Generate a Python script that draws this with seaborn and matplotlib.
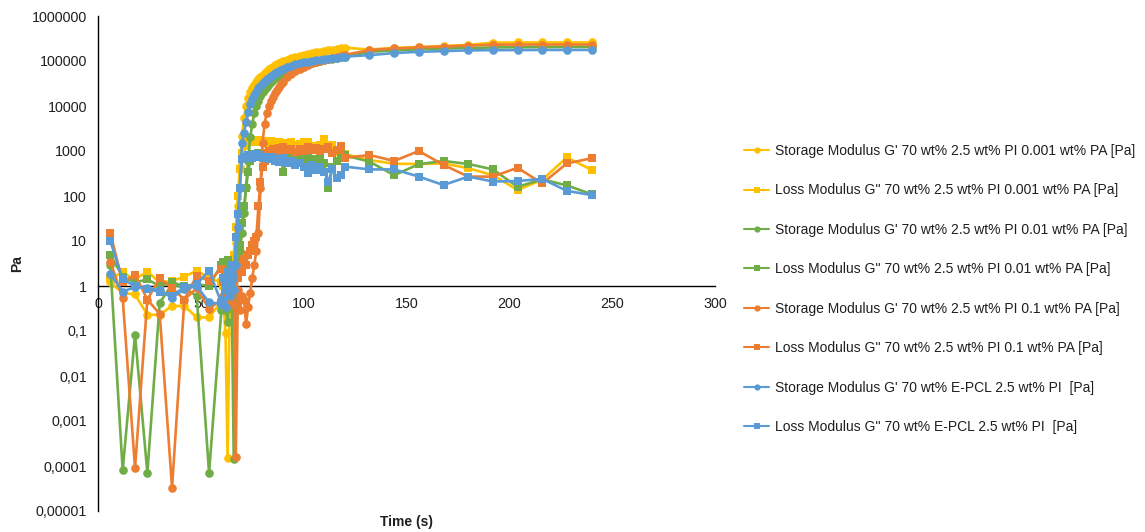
import matplotlib
matplotlib.use("Agg")
import matplotlib.pyplot as plt
from matplotlib.lines import Line2D
from matplotlib.ticker import FixedLocator, FixedFormatter, NullLocator
import seaborn as sns

# Sampling times (s): sparse start, dense gelation window, sparse tail
TIME = [6, 12, 18, 24, 30, 36, 42, 48, 54, 60,
        61, 62, 63, 64, 65, 66, 67, 68, 69, 70,
        71, 72, 73, 74, 75, 76, 77, 78, 79, 80,
        81, 82, 83, 84, 85, 86, 87, 88, 89, 90,
        92, 94, 96, 98, 100, 102, 104, 106, 108, 110,
        112, 114, 116, 118, 120,
        132, 144, 156, 168, 180, 192, 204, 216, 228, 240]

# 70 wt% 2.5 wt% PI 0.001 wt% PA
G1_STORAGE = [1.2, 0.7, 0.65, 0.23, 0.23, 0.36, 0.36, 0.2, 0.2, 0.45,
              0.4, 0.089, 0.00015, 0.3, 0.9, 2.5, 9, 60, 450, 2200,
              5500, 10000, 15000, 20000, 25000, 30000, 35000, 40000, 45000, 50000,
              55000, 60000, 65000, 70000, 75000, 80000, 85000, 90000, 95000, 99000,
              107000, 115000, 122000, 129000, 136000, 143000, 150000, 156000, 162000, 168000,
              174000, 180000, 186000, 192000, 198000,
              180000, 195000, 205000, 215000, 228000, 255000, 258000, 258000, 258000, 258000]
G1_LOSS = [1.5, 2.0, 1.4, 2.1, 1.2, 1.3, 1.6, 2.2, 1.5, 1.2,
           1.0, 0.5, 0.3, 1.1, 2.2, 5, 20, 100, 400, 900,
           1300, 1500, 1600, 1650, 1700, 1600, 1650, 1750, 1600, 1550,
           1650, 1500, 1600, 1700, 1450, 1550, 1450, 1600, 1400, 1500,
           1400, 1600, 1350, 1450, 1550, 1600, 1300, 1250, 1350, 1850,
           1150, 1350, 950, 1000, 850,
           630, 520, 515, 530, 415, 290, 136, 230, 720, 380]

# 70 wt% 2.5 wt% PI 0.01 wt% PA
G2_STORAGE = [2.9, 0.00008, 0.083, 0.00007, 0.42, 1.1, 0.9, 0.6, 0.00007, 0.3,
              0.5, 0.3, 0.16, 1.2, 0.7, 0.00014, 0.5, 2, 6, 15,
              42, 160, 600, 2000, 4000, 7000, 10000, 13000, 16500, 20000,
              23500, 27000, 30500, 34000, 37500, 41000, 44500, 48000, 51500, 55000,
              61000, 67000, 73000, 78000, 83000, 88000, 92000, 96000, 100000, 104000,
              108000, 112000, 116000, 120000, 124000,
              160000, 172000, 182000, 190000, 195000, 200000, 202000, 203000, 204000, 205000]
G2_LOSS = [4.9, 1.6, 1.2, 1.4, 1.0, 1.2, 1.0, 1.1, 1.0, 3.0,
           3.5, 2.0, 3.8, 1.2, 2.5, 0.6, 1.5, 3, 8, 25,
           60, 150, 350, 600, 750, 850, 800, 900, 850, 900,
           800, 850, 900, 800, 750, 900, 700, 750, 800, 345,
           700, 800, 650, 750, 600, 700, 650, 600, 700, 550,
           150, 450, 600, 900, 800,
           580, 290, 510, 600, 515, 390, 160, 235, 172, 110]

# 70 wt% 2.5 wt% PI 0.1 wt% PA
G3_STORAGE = [3.5, 0.54, 0.00009, 0.5, 0.24, 0.000033, 0.5, 0.9, 0.31, 0.5,
              0.6, 1.2, 0.5, 0.9, 0.4, 1.5, 0.00016, 0.8, 0.3, 0.6,
              0.5, 0.14, 0.35, 0.7, 1.5, 3, 6, 15, 150, 1500,
              4000, 7000, 10000, 13000, 16000, 19500, 23000, 27000, 31000, 35000,
              43000, 51000, 59000, 67000, 74000, 81000, 88000, 95000, 101000, 107000,
              113000, 119000, 125000, 131000, 137000,
              175000, 190000, 200000, 210000, 220000, 230000, 232000, 232000, 232000, 232000]
G3_LOSS = [15, 1.2, 1.8, 0.5, 1.5, 0.9, 0.5, 1.7, 1.3, 2.4,
           1.2, 0.6, 1.5, 0.8, 2.0, 1.2, 2.5, 1.5, 3, 2,
           4, 3, 5, 6, 8, 10, 12, 60, 200, 450,
           600, 900, 1000, 950, 1100, 1050, 950, 1150, 1000, 1200,
           1050, 1100, 950, 1100, 1000, 1200, 1050, 1150, 1000, 1100,
           1200, 900, 1050, 1300, 700,
           815, 600, 1000, 490, 270, 270, 425, 190, 530, 690]

# 70 wt% E-PCL 2.5 wt% PI
G4_STORAGE = [1.85, 0.75, 0.95, 0.9, 0.8, 0.55, 0.85, 1.0, 0.43, 0.4,
              0.5, 0.35, 1.0, 0.6, 1.5, 0.8, 3, 20, 150, 1500,
              2500, 4500, 7500, 11000, 14000, 17500, 21000, 25000, 28500, 32000,
              35500, 39000, 42500, 46000, 49500, 53000, 56500, 60000, 63000, 66000,
              72000, 78000, 84000, 89000, 93000, 97000, 100000, 104000, 107000, 110000,
              113000, 116000, 119000, 122000, 125000,
              135000, 150000, 160000, 166000, 172000, 174000, 175000, 176000, 176000, 176000]
G4_LOSS = [10, 1.4, 1.0, 0.85, 0.75, 0.6, 0.95, 1.1, 2.2, 0.42,
           1.5, 0.8, 2.0, 1.2, 3.0, 1.5, 12, 40, 150, 650,
           750, 700, 800, 750, 700, 800, 850, 750, 800, 700,
           750, 700, 650, 750, 700, 600, 680, 580, 650, 700,
           550, 600, 500, 550, 450, 320, 500, 380, 450, 350,
           210, 400, 250, 300, 450,
           390, 390, 270, 175, 270, 210, 215, 240, 130, 105]

LABELS = [
    "Storage Modulus G' 70 wt% 2.5 wt% PI 0.001 wt% PA [Pa]",
    "Loss Modulus G'' 70 wt% 2.5 wt% PI 0.001 wt% PA [Pa]",
    "Storage Modulus G' 70 wt% 2.5 wt% PI 0.01 wt% PA [Pa]",
    "Loss Modulus G'' 70 wt% 2.5 wt% PI 0.01 wt% PA [Pa]",
    "Storage Modulus G' 70 wt% 2.5 wt% PI 0.1 wt% PA [Pa]",
    "Loss Modulus G'' 70 wt% 2.5 wt% PI 0.1 wt% PA [Pa]",
    "Storage Modulus G' 70 wt% E-PCL 2.5 wt% PI  [Pa]",
    "Loss Modulus G'' 70 wt% E-PCL 2.5 wt% PI  [Pa]",
]
SERIES = [G1_STORAGE, G1_LOSS, G2_STORAGE, G2_LOSS,
          G3_STORAGE, G3_LOSS, G4_STORAGE, G4_LOSS]

X_TICKS = [0, 50, 100, 150, 200, 250, 300]
Y_TICKS = [1e-5, 1e-4, 1e-3, 1e-2, 1e-1, 1, 10, 100, 1000, 10000, 100000, 1000000]
Y_TICK_LABELS = ["0,00001", "0,0001", "0,001", "0,01", "0,1", "1", "10", "100",
                 "1000", "10000", "100000", "1000000"]

YELLOW, GREEN, ORANGE, BLUE = "#FFC000", "#70AD47", "#ED7D31", "#5B9BD5"
COLORS = [YELLOW, YELLOW, GREEN, GREEN, ORANGE, ORANGE, BLUE, BLUE]
MARKERS = ["o", "s"] * 4

sns.set_theme(style="white")
plt.rcParams["font.family"] = ["Liberation Sans", "DejaVu Sans"]
TEXT = "#1f1f1f"

fig = plt.figure(figsize=(11.45, 5.32), dpi=100)
ax = fig.add_axes([98 / 1145, 21 / 532, 617 / 1145, 495 / 532])

for i, (vals, col, mk) in enumerate(zip(SERIES, COLORS, MARKERS)):
    sns.lineplot(x=TIME, y=vals, ax=ax, color=col, marker=mk, markersize=6.2,
                 markeredgewidth=0, linewidth=1.9, estimator=None, sort=False,
                 legend=False, zorder=2 + i)

ax.set_yscale("log")
ax.set_xlim(0, 300)
ax.set_ylim(1e-5, 1e6)

ax.yaxis.set_major_locator(FixedLocator(Y_TICKS))
ax.yaxis.set_major_formatter(FixedFormatter(Y_TICK_LABELS))
ax.yaxis.set_minor_locator(NullLocator())
ax.xaxis.set_major_locator(FixedLocator(X_TICKS))
ax.xaxis.set_minor_locator(NullLocator())

for side in ("top", "right"):
    ax.spines[side].set_visible(False)
ax.spines["bottom"].set_position(("data", 1))
for side in ("left", "bottom"):
    ax.spines[side].set_color("black")
    ax.spines[side].set_linewidth(1.0)
    ax.spines[side].set_zorder(1)

ax.tick_params(axis="both", which="major", direction="out", length=4, width=1,
               color="black", labelsize=10.3, labelcolor=TEXT, pad=4)
ax.tick_params(axis="x", pad=4)

ax.set_xlabel("Time (s)", fontsize=10, fontweight="bold", color=TEXT)
ax.xaxis.set_label_coords(0.5, -0.008)
ax.set_ylabel("Pa", fontsize=10, fontweight="bold", color=TEXT)
ax.yaxis.set_label_coords(-0.12, 0.5)

handles = [Line2D([0], [0], color=c, marker=m, markersize=4.5, markeredgewidth=0,
                  linewidth=1.5) for c, m in zip(COLORS, MARKERS)]
fig.legend(handles, LABELS, loc="upper left",
           bbox_to_anchor=(744 / 1145, 1 - 144 / 532), frameon=False,
           fontsize=10, handlelength=1.8, handletextpad=0.4,
           labelspacing=1.83, borderaxespad=0, borderpad=0, labelcolor=TEXT)

fig.savefig("out.png", dpi=100)
